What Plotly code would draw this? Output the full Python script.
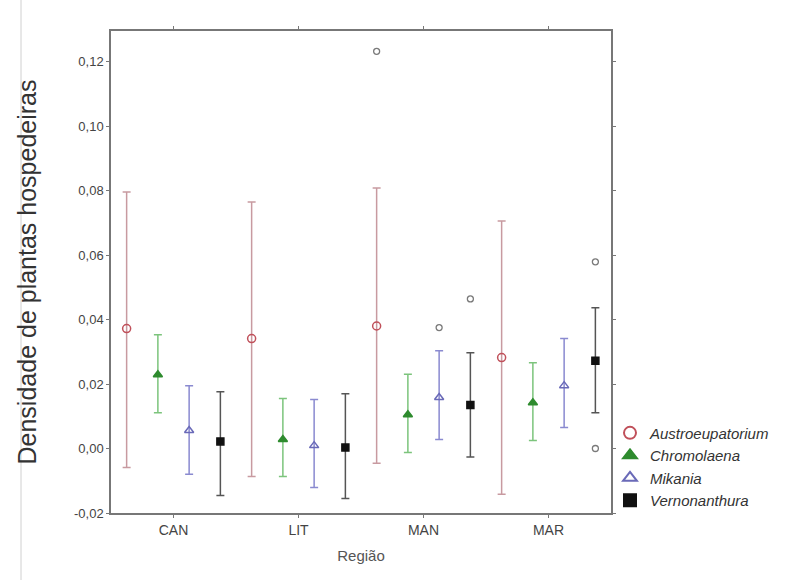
import plotly.graph_objects as go

regions = ["CAN", "LIT", "MAN", "MAR"]
species = ["Austroeupatorium", "Chromolaena", "Mikania", "Vernonanthura"]

means = {
    "Austroeupatorium": [0.0372, 0.0341, 0.0380, 0.0282],
    "Chromolaena":      [0.0229, 0.0028, 0.0105, 0.0142],
    "Mikania":          [0.0056, 0.0009, 0.0158, 0.0195],
    "Vernonanthura":    [0.0022, 0.0003, 0.0135, 0.0272],
}
upper = {
    "Austroeupatorium": [0.0796, 0.0765, 0.0808, 0.0706],
    "Chromolaena":      [0.0353, 0.0155, 0.0230, 0.0266],
    "Mikania":          [0.0195, 0.0152, 0.0303, 0.0341],
    "Vernonanthura":    [0.0176, 0.0170, 0.0297, 0.0437],
}
lower = {
    "Austroeupatorium": [-0.0059, -0.0087, -0.0046, -0.0142],
    "Chromolaena":      [0.0111, -0.0087, -0.0012, 0.0025],
    "Mikania":          [-0.0080, -0.0121, 0.0028, 0.0065],
    "Vernonanthura":    [-0.0146, -0.0155, -0.0026, 0.0111],
}
# outliers: (region, species, value)
outlier_region = ["MAN", "MAN", "MAN", "MAR", "MAR"]
outlier_species = ["Austroeupatorium", "Mikania", "Vernonanthura", "Vernonanthura", "Vernonanthura"]
outlier_value = [0.1232, 0.0375, 0.0464, 0.0579, 0.0000]

y_tickvals = [-0.02, 0.0, 0.02, 0.04, 0.06, 0.08, 0.10, 0.12]
y_ticktext = ["-0,02", "0,00", "0,02", "0,04", "0,06", "0,08", "0,10", "0,12"]

offsets = {"Austroeupatorium": -0.375, "Chromolaena": -0.125, "Mikania": 0.125, "Vernonanthura": 0.375}
styles = {
    "Austroeupatorium": dict(symbol="circle-open", color="#c0505a", err="#c89aa0", size=8),
    "Chromolaena": dict(symbol="triangle-up", color="#2e8b2e", err="#7cc47c", size=8),
    "Mikania": dict(symbol="triangle-up-open", color="#6a6ab8", err="#8a8ad0", size=8),
    "Vernonanthura": dict(symbol="square", color="#111111", err="#555555", size=7),
}

fig = go.Figure()
for sp in species:
    st = styles[sp]
    xs = [i + offsets[sp] for i in range(len(regions))]
    m = means[sp]
    fig.add_trace(go.Scatter(
        x=xs, y=m, mode="markers", name="<i>" + sp + "</i>",
        marker=dict(symbol=st["symbol"], color=st["color"], size=st["size"],
                    line=dict(color=st["color"], width=1.5)),
        error_y=dict(type="data", symmetric=False,
                     array=[u - v for u, v in zip(upper[sp], m)],
                     arrayminus=[v - l for v, l in zip(m, lower[sp])],
                     color=st["err"], thickness=1.5, width=4),
    ))

fig.add_trace(go.Scatter(
    x=[regions.index(r) + offsets[s] for r, s in zip(outlier_region, outlier_species)],
    y=outlier_value, mode="markers", showlegend=False,
    marker=dict(symbol="circle-open", color="#7a7a7a", size=6, line=dict(width=1.3)),
))

fig.add_shape(type="line", xref="paper", yref="paper", x0=-0.18, x1=-0.18, y0=-0.14, y1=1.07,
              line=dict(color="#d0d0d0", width=1))

fig.update_layout(
    width=785, height=580,
    margin=dict(l=111, r=174, t=31, b=67, autoexpand=False),
    plot_bgcolor="white", paper_bgcolor="white",
    font=dict(family="Liberation Sans, Arial, sans-serif", size=12, color="#444"),
    legend=dict(x=0.998, y=0.2, xanchor="left", yanchor="top",
                bgcolor="rgba(0,0,0,0)",
                font=dict(size=15, color="#333"), tracegroupgap=0,
                itemsizing="constant", itemwidth=30),
    xaxis=dict(range=[-0.5, 3.5], tickvals=list(range(len(regions))), ticktext=regions,
               tickfont=dict(size=14),
               showline=True, linecolor="#777", linewidth=1.5, mirror="ticks",
               ticks="outside", ticklen=3, tickcolor="#777", showgrid=False, zeroline=False,
               title=dict(text="Região", font=dict(size=15, color="#555"), standoff=14)),
    yaxis=dict(range=[-0.02, 0.1295], tickvals=y_tickvals, ticktext=y_ticktext,
               tickfont=dict(size=13),
               showline=True, linecolor="#777", linewidth=1.5, mirror="ticks",
               ticks="outside", ticklen=3, tickcolor="#777", showgrid=False, zeroline=False,
               title=dict(text="Densidade de plantas hospedeiras", font=dict(size=25, color="#333"),
                          standoff=30)),
)

fig.write_html("out.html")
